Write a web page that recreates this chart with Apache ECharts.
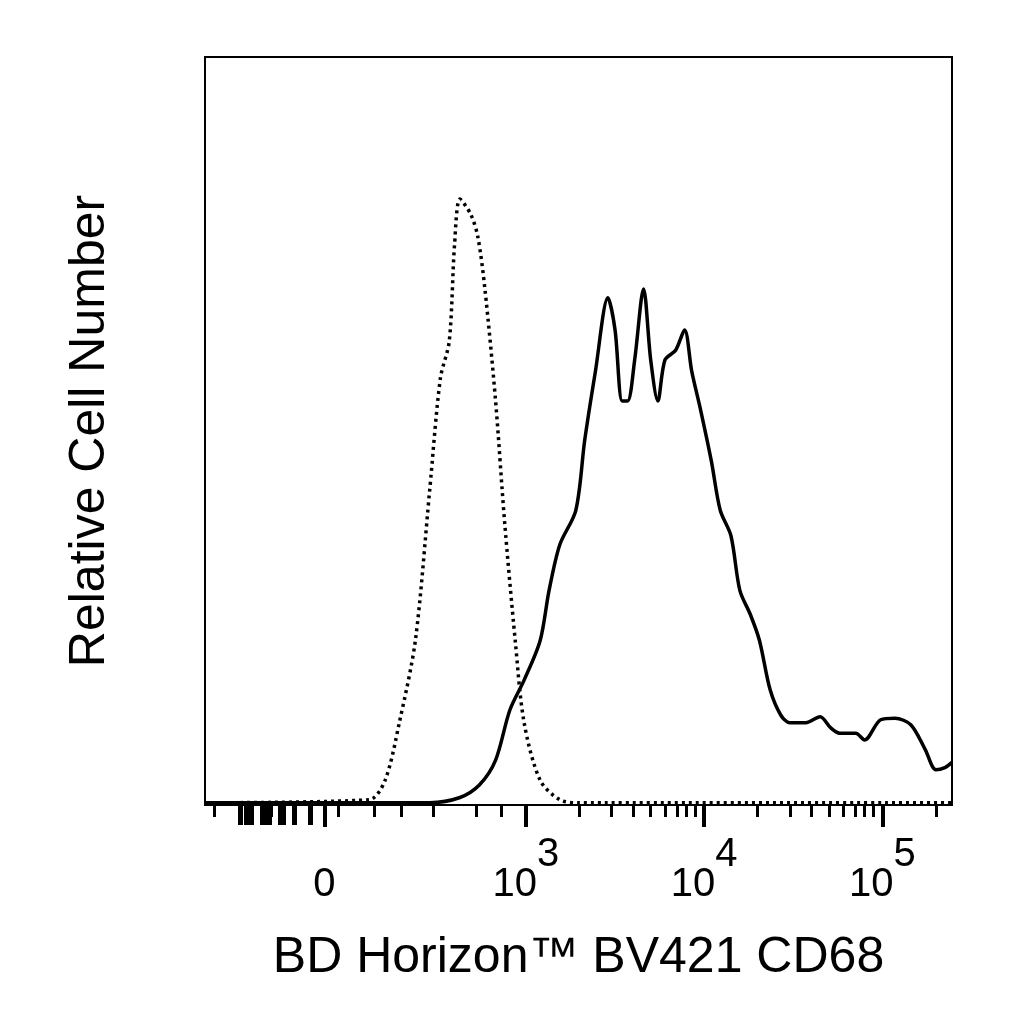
<!DOCTYPE html>
<html>
<head>
<meta charset="utf-8">
<script src="https://cdn.jsdelivr.net/npm/echarts@6/dist/echarts.min.js"></script>
<style>html,body{margin:0;background:#fff}#main{width:1024px;height:1024px}</style>
</head>
<body>
<div id="main"></div>
<script>
// x is in display units: 3 = 10^3, 4 = 10^4, 5 = 10^5, zero sits at 1.87
var isotypeX = [1.20, 2.12, 2.21, 2.29, 2.38, 2.46, 2.52, 2.57, 2.60, 2.63, 2.69, 2.73, 2.77, 2.83, 2.88, 2.94, 2.99, 3.08, 3.19, 3.30, 5.39];
var isotypeY = [0.3, 0.7, 3.3, 11, 22, 42, 57, 62, 75, 81, 79, 76, 69, 54, 38, 22, 11, 3.3, 0.7, 0.3, 0.3];
var cd68X = [1.20, 2.46, 2.63, 2.74, 2.83, 2.91, 2.99, 3.08, 3.13, 3.19, 3.28, 3.33, 3.39, 3.46, 3.50, 3.54, 3.57, 3.61, 3.66, 3.70, 3.74, 3.78, 3.84, 3.89, 3.93, 3.98, 4.04, 4.09, 4.15, 4.20, 4.26, 4.31, 4.37, 4.43, 4.48, 4.57, 4.65, 4.71, 4.76, 4.85, 4.90, 4.99, 5.07, 5.16, 5.24, 5.30, 5.35, 5.39];
var cd68Y = [0.3, 0.3, 1, 2.7, 6, 12.7, 16.7, 22, 28.7, 34.8, 39.4, 48.8, 58, 67.8, 63.5, 54, 54, 59.5, 69, 59.5, 54, 59.5, 60.8, 63.5, 58, 52.8, 46, 39.4, 36, 28.7, 25.4, 22, 15.4, 12, 11, 11, 11.8, 10.3, 9.6, 9.6, 8.7, 11.4, 11.6, 10.7, 7.4, 4.7, 5, 5.7];
var majorTicks = [1.87, 3, 4, 5];
var majorLabels = ['{b|0}', '{b|10}{s|3}', '{b|10}{s|4}', '{b|10}{s|5}'];
var minorTicks = [1.25, 1.57, 1.95, 2.15, 2.3, 2.48, 2.72, 2.86, 3.3, 3.48, 3.6, 3.7, 3.78, 3.85, 3.9, 3.95, 4.3, 4.48, 4.6, 4.7, 4.78, 4.85, 4.9, 4.95, 5.3];
var negTicks = [1.40, 1.43, 1.46, 1.52, 1.54, 1.56, 1.62, 1.64, 1.70, 1.79];

var chart = echarts.init(document.getElementById('main'));
var pts = function (xs, ys) { return xs.map(function (x, i) { return [x, ys[i]]; }); };
chart.setOption({
  animation: false,
  grid: {left: 205, right: 72, top: 57, bottom: 219},
  xAxis: [{
    type: 'value', min: 1.20, max: 5.39,
    splitLine: {show: false},
    axisLine: {lineStyle: {color: '#000', width: 2}},
    axisTick: {customValues: majorTicks, length: 22, lineStyle: {color: '#000', width: 4}},
    axisLabel: {
      customValues: majorTicks, margin: 30, color: '#000', fontFamily: 'Liberation Sans',
      formatter: function (v) { return majorLabels[majorTicks.indexOf(v)]; },
      rich: {
        b: {fontSize: 40, lineHeight: 70, verticalAlign: 'bottom', fontFamily: 'Liberation Sans', color: '#000'},
        s: {fontSize: 40, lineHeight: 70, verticalAlign: 'top', fontFamily: 'Liberation Sans', color: '#000'}
      }
    },
    name: 'BD Horizon™ BV421 CD68', nameLocation: 'middle', nameGap: 128,
    nameTextStyle: {color: '#000', fontSize: 50, fontFamily: 'Liberation Sans'}
  }, {
    type: 'value', min: 1.20, max: 5.39, position: 'bottom',
    axisLine: {show: false}, splitLine: {show: false}, axisLabel: {show: false},
    axisTick: {customValues: minorTicks, length: 12, lineStyle: {color: '#000', width: 3}}
  }, {
    type: 'value', min: 1.20, max: 5.39, position: 'bottom',
    axisLine: {show: false}, splitLine: {show: false}, axisLabel: {show: false},
    axisTick: {customValues: negTicks, length: 20, lineStyle: {color: '#000', width: 5}}
  }],
  yAxis: {
    type: 'value', min: 0, max: 100,
    axisLine: {lineStyle: {color: '#000', width: 2}}, axisTick: {show: false},
    axisLabel: {show: false}, splitLine: {show: false},
    name: 'Relative Cell Number', nameLocation: 'middle', nameGap: 90,
    nameTextStyle: {color: '#000', fontSize: 50, fontFamily: 'Liberation Sans'}
  },
  graphic: [{type: 'rect', shape: {x: 205, y: 57, width: 747, height: 748}, style: {fill: 'none', stroke: '#000', lineWidth: 2}}],
  series: [
    {type: 'line', data: pts(isotypeX, isotypeY), showSymbol: false, smooth: 0.3,
     lineStyle: {color: '#000', width: 3.5, type: [3, 4]}},
    {type: 'line', data: pts(cd68X, cd68Y), showSymbol: false, smooth: 0.3,
     lineStyle: {color: '#000', width: 3.5}}
  ]
});
</script>
</body>
</html>
